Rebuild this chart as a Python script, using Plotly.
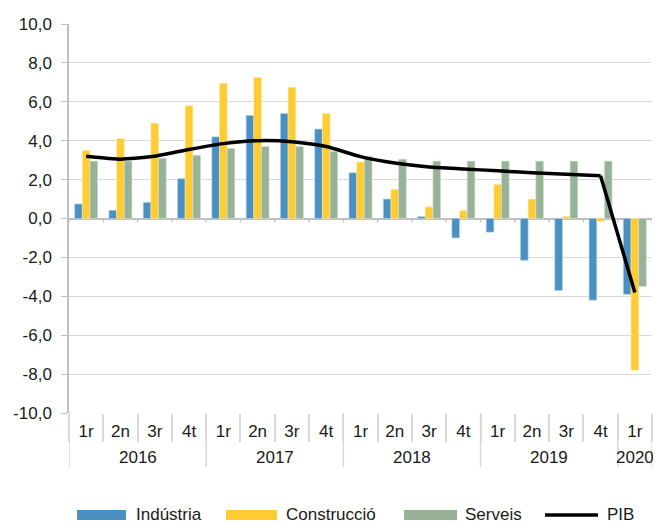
import plotly.graph_objects as go

years = ["2016"] * 4 + ["2017"] * 4 + ["2018"] * 4 + ["2019"] * 4 + ["2020"]
quarters = ["1r", "2n", "3r", "4t"] * 4 + ["1r"]

industria = [0.75, 0.42, 0.83, 2.05, 4.2, 5.3, 5.4, 4.6, 2.35, 1.0, 0.1, -1.0,
             -0.7, -2.15, -3.7, -4.2, -3.9]
construccio = [3.5, 4.1, 4.9, 5.8, 6.95, 7.25, 6.75, 5.4, 2.9, 1.5, 0.6, 0.4,
               1.75, 1.0, 0.1, -0.15, -7.8]
serveis = [2.95, 2.95, 3.1, 3.25, 3.6, 3.7, 3.7, 3.45, 3.2, 3.05, 2.95, 2.95,
           2.95, 2.95, 2.95, 2.95, -3.5]
pib = [3.2, 3.05, 3.2, 3.55, 3.85, 4.0, 3.95, 3.7, 3.18, 2.85, 2.65, 2.55,
       2.45, 2.35, 2.28, 2.2, -3.8]

y_tickvals = [10, 8, 6, 4, 2, 0, -2, -4, -6, -8, -10]
y_ticktext = ["10,0", "8,0", "6,0", "4,0", "2,0", "0,0", "-2,0", "-4,0", "-6,0", "-8,0", "-10,0"]

series_names = ["Indústria", "Construcció", "Serveis", "PIB"]
colors = ["#4A90C3", "#FFCC33", "#97B297", "#000000"]
edge_colors = ["#B9D3E8", "#FFE9A8", "#D3E0D3"]

# unique category keys, shown with quarter labels
keys = [f"{y} {q}" for y, q in zip(years, quarters)]
font_family = "Liberation Sans, Arial, sans-serif"
FS = 17
GRID = "#D9D9D9"

fig = go.Figure()
for vals, name, col, edge in zip([industria, construccio, serveis], series_names[:3], colors[:3], edge_colors):
    fig.add_trace(go.Bar(x=keys, y=vals, name=name, showlegend=False,
                         marker=dict(color=col, line=dict(color=edge, width=0.6))))
# smoothed part of the PIB line, then the final straight drop
fig.add_trace(go.Scatter(x=keys[:16], y=pib[:16], name="PIB", mode="lines",
                         showlegend=False,
                         line=dict(color="black", width=3.5, shape="spline", smoothing=0.5)))
fig.add_trace(go.Scatter(x=keys[15:], y=pib[15:], name="PIB", mode="lines",
                         showlegend=False, line=dict(color="black", width=3.5)))

# plot-area geometry (page pixels) for paper-coordinate helpers
L, W, B, H = 69.0, 583.0, 413.0, 389.0
def px(v):
    return (v - L) / W
def py(v):
    return (B - v) / H

# year labels and year dividers
year_list = []
for y in years:
    if y not in year_list:
        year_list.append(y)
bounds = [-0.5]
for yr in year_list:
    idx = [i for i, y in enumerate(years) if y == yr]
    fig.add_annotation(xref="x", yref="paper", x=(idx[0] + idx[-1]) / 2, y=py(457),
                       text=yr, showarrow=False, yanchor="middle",
                       font=dict(size=FS, color="#1a1a1a"))
    bounds.append(idx[-1] + 0.5)
for b in bounds:
    fig.add_shape(type="line", xref="x", yref="paper", x0=b, x1=b, y0=0, y1=py(467),
                  line=dict(color=GRID, width=1.5), layer="below")
# small tick marks on the zero line
for i in range(len(keys) + 1):
    fig.add_shape(type="line", xref="x", yref="y", x0=i - 0.5, x1=i - 0.5, y0=0, y1=-0.2,
                  line=dict(color="#BFBFBF", width=1.2), layer="below")

# custom legend (wide swatches as in the original)
LEG_Y = 515
sw = [(77, 126, 134), (226, 277, 284), (404, 457, 463), (545, 598, 605)]
for i, (x0, x1, tx) in enumerate(sw):
    if i < 3:
        fig.add_shape(type="rect", xref="paper", yref="paper",
                      x0=px(x0), x1=px(x1), y0=py(LEG_Y - 5), y1=py(LEG_Y + 5),
                      fillcolor=colors[i], line=dict(width=0))
    else:
        fig.add_shape(type="line", xref="paper", yref="paper",
                      x0=px(x0), x1=px(x1), y0=py(LEG_Y), y1=py(LEG_Y),
                      line=dict(color="black", width=3.5))
    fig.add_annotation(xref="paper", yref="paper", x=px(tx), y=py(LEG_Y),
                       text=series_names[i], showarrow=False, xanchor="left",
                       yanchor="middle", font=dict(size=FS, color="#1a1a1a"))

# page has an 8px body margin: figure is 653x518 and drawn at (8, 8)
fig.update_layout(
    width=653, height=518,
    margin=dict(l=61, r=9, t=16, b=113),
    paper_bgcolor="white", plot_bgcolor="white",
    font=dict(family=font_family, size=FS, color="#1a1a1a"),
    barmode="group", bargap=0.33, bargroupgap=0,
    showlegend=False,
)
fig.update_yaxes(range=[-10, 10], tickvals=y_tickvals, ticktext=y_ticktext,
                 automargin=False,
                 showgrid=True, gridcolor=GRID, gridwidth=1,
                 zeroline=True, zerolinecolor="#BFBFBF", zerolinewidth=1.5,
                 showline=True, linecolor="#BFBFBF", linewidth=1.5,
                 ticks="outside", ticklen=6, tickcolor="#BFBFBF",
                 ticklabelstandoff=6,
                 tickfont=dict(size=FS))
fig.update_xaxes(type="category", tickvals=keys, ticktext=quarters,
                 ticks="outside", tickson="boundaries",
                 automargin=False, range=[-0.5, len(keys) - 0.5],
                 ticklen=28, tickcolor=GRID, tickwidth=1.5,
                 ticklabelstandoff=6,
                 showgrid=False, showline=False, tickfont=dict(size=FS))

fig.write_html("out.html")
